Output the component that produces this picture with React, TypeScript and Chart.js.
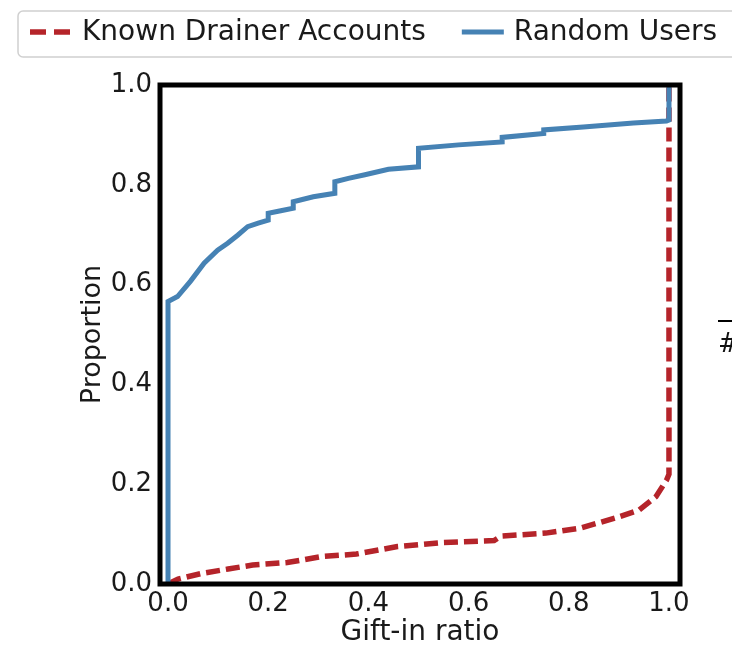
import React, { useEffect, useRef } from 'react';
import { Chart, registerables } from 'chart.js';

Chart.register(...registerables);

// ---- Data ----
const seriesLabels = ['Known Drainer Accounts', 'Random Users'];

const drainerX = [0, 0.02, 0.066, 0.12, 0.169, 0.238, 0.307, 0.376, 0.458, 0.548, 0.651, 0.665, 0.754, 0.823, 0.892, 0.94, 0.974, 0.995, 1.0, 1.0];
const drainerY = [0, 0.01, 0.021, 0.03, 0.038, 0.043, 0.055, 0.06, 0.075, 0.083, 0.087, 0.096, 0.102, 0.112, 0.132, 0.148, 0.175, 0.208, 0.22, 1.0];

const randomX = [0, 0, 0.019, 0.045, 0.072, 0.099, 0.119, 0.139, 0.159, 0.18, 0.2, 0.2, 0.225, 0.25, 0.25, 0.29, 0.333, 0.333, 0.36, 0.393, 0.44, 0.5, 0.5, 0.58, 0.667, 0.667, 0.75, 0.75, 0.829, 0.929, 0.995, 1.0, 1.0];
const randomY = [0, 0.566, 0.576, 0.607, 0.643, 0.669, 0.683, 0.699, 0.716, 0.723, 0.729, 0.743, 0.748, 0.753, 0.766, 0.776, 0.783, 0.806, 0.813, 0.82, 0.831, 0.836, 0.873, 0.88, 0.886, 0.895, 0.903, 0.91, 0.916, 0.924, 0.928, 0.93, 1.0];

const xTicks = [0, 0.2, 0.4, 0.6, 0.8, 1.0];
const yTicks = [0, 0.2, 0.4, 0.6, 0.8, 1.0];

const FONT = '"DejaVu Sans", sans-serif';

const frame = {
  id: 'frame',
  afterDatasetsDraw(chart: any) {
    const { ctx, chartArea: a } = chart;
    ctx.save();
    ctx.strokeStyle = '#000';
    ctx.lineWidth = 5;
    ctx.strokeRect(a.left, a.top, a.right - a.left, a.bottom - a.top);
    ctx.restore();
  },
};

const legendBox = {
  id: 'legendBox',
  afterDraw(chart: any) {
    const { ctx } = chart;
    ctx.save();
    ctx.strokeStyle = '#d0d0d0';
    ctx.lineWidth = 1.5;
    ctx.beginPath();
    (ctx as any).roundRect(18, 11, 760, 46, 5);
    ctx.stroke();
    ctx.font = `28px ${FONT}`;
    ctx.textBaseline = 'middle';
    ctx.fillStyle = '#1a1a1a';
    let x = 30;
    const y = 32;
    chart.data.datasets.forEach((ds: any) => {
      ctx.save();
      ctx.strokeStyle = ds.borderColor;
      ctx.lineWidth = ds.borderWidth;
      ctx.setLineDash(ds.borderDash ? [16, 8] : []);
      ctx.beginPath();
      ctx.moveTo(x, y);
      ctx.lineTo(x + 42, y);
      ctx.stroke();
      ctx.restore();
      ctx.fillText(ds.label, x + 52, y + 1);
      x += 52 + ctx.measureText(ds.label).width + 36;
    });
    // fragment of neighbouring figure at the right edge
    ctx.strokeStyle = '#000';
    ctx.lineWidth = 2;
    ctx.beginPath();
    ctx.moveTo(718, 321);
    ctx.lineTo(732, 321);
    ctx.stroke();
    ctx.font = `26px ${FONT}`;
    ctx.textBaseline = 'alphabetic';
    ctx.fillStyle = '#111';
    ctx.fillText('#', 718, 352);
    ctx.restore();
  },
};

export default function App() {
  const ref = useRef<HTMLCanvasElement>(null);
  useEffect(() => {
    if (!ref.current) return;
    const chart = new Chart(ref.current, {
      type: 'line',
      data: {
        datasets: [
          {
            label: seriesLabels[0],
            data: drainerX.map((x, i) => ({ x, y: drainerY[i] })),
            borderColor: '#b5242a',
            borderWidth: 5.5,
            borderDash: [14, 6],
            pointRadius: 0,
            fill: false,
            tension: 0,
            order: 1,
          },
          {
            label: seriesLabels[1],
            data: randomX.map((x, i) => ({ x, y: randomY[i] })),
            borderColor: '#4682b4',
            borderWidth: 5,
            pointRadius: 0,
            fill: false,
            tension: 0,
            order: 0,
          },
        ],
      },
      options: {
        responsive: false,
        animation: false,
        layout: { padding: { left: 0, right: 52, top: 85, bottom: 0 } },
        plugins: { legend: { display: false }, tooltip: { enabled: false } },
        scales: {
          x: {
            type: 'linear',
            min: -0.016,
            max: 1.022,
            afterBuildTicks: (s: any) => { s.ticks = xTicks.map((v) => ({ value: v })); },
            afterFit: (s: any) => { s.height = 63; },
            grid: { display: false, drawTicks: false, tickLength: 0 },
            border: { display: false },
            ticks: {
              padding: 5,
              maxRotation: 0,
              color: '#1a1a1a',
              font: { family: FONT, size: 26 },
              callback: (v: any) => Number(v).toFixed(1),
            },
            title: {
              display: true,
              text: 'Gift-in ratio',
              color: '#1a1a1a',
              font: { family: FONT, size: 28, lineHeight: 1 },
              padding: { top: 0, bottom: 0 },
            },
          },
          y: {
            type: 'linear',
            min: 0,
            max: 1,
            afterBuildTicks: (s: any) => { s.ticks = yTicks.map((v) => ({ value: v })); },
            afterFit: (s: any) => { s.width = 160; },
            grid: { display: false, drawTicks: false, tickLength: 0 },
            border: { display: false },
            ticks: {
              padding: 8,
              color: '#1a1a1a',
              font: { family: FONT, size: 26 },
              callback: (v: any) => Number(v).toFixed(1),
            },
            title: {
              display: true,
              text: 'Proportion',
              color: '#1a1a1a',
              font: { family: FONT, size: 27, lineHeight: 1 },
              padding: { top: 79, bottom: 0 },
            },
          },
        },
      },
      plugins: [frame, legendBox],
    });
    return () => chart.destroy();
  }, []);
  return (
    <div style={{ position: 'fixed', left: 0, top: 0, width: 732, height: 647, background: '#fff', overflow: 'hidden' }}>
      <canvas ref={ref} width={732} height={647} style={{ display: 'block' }} />
    </div>
  );
}
